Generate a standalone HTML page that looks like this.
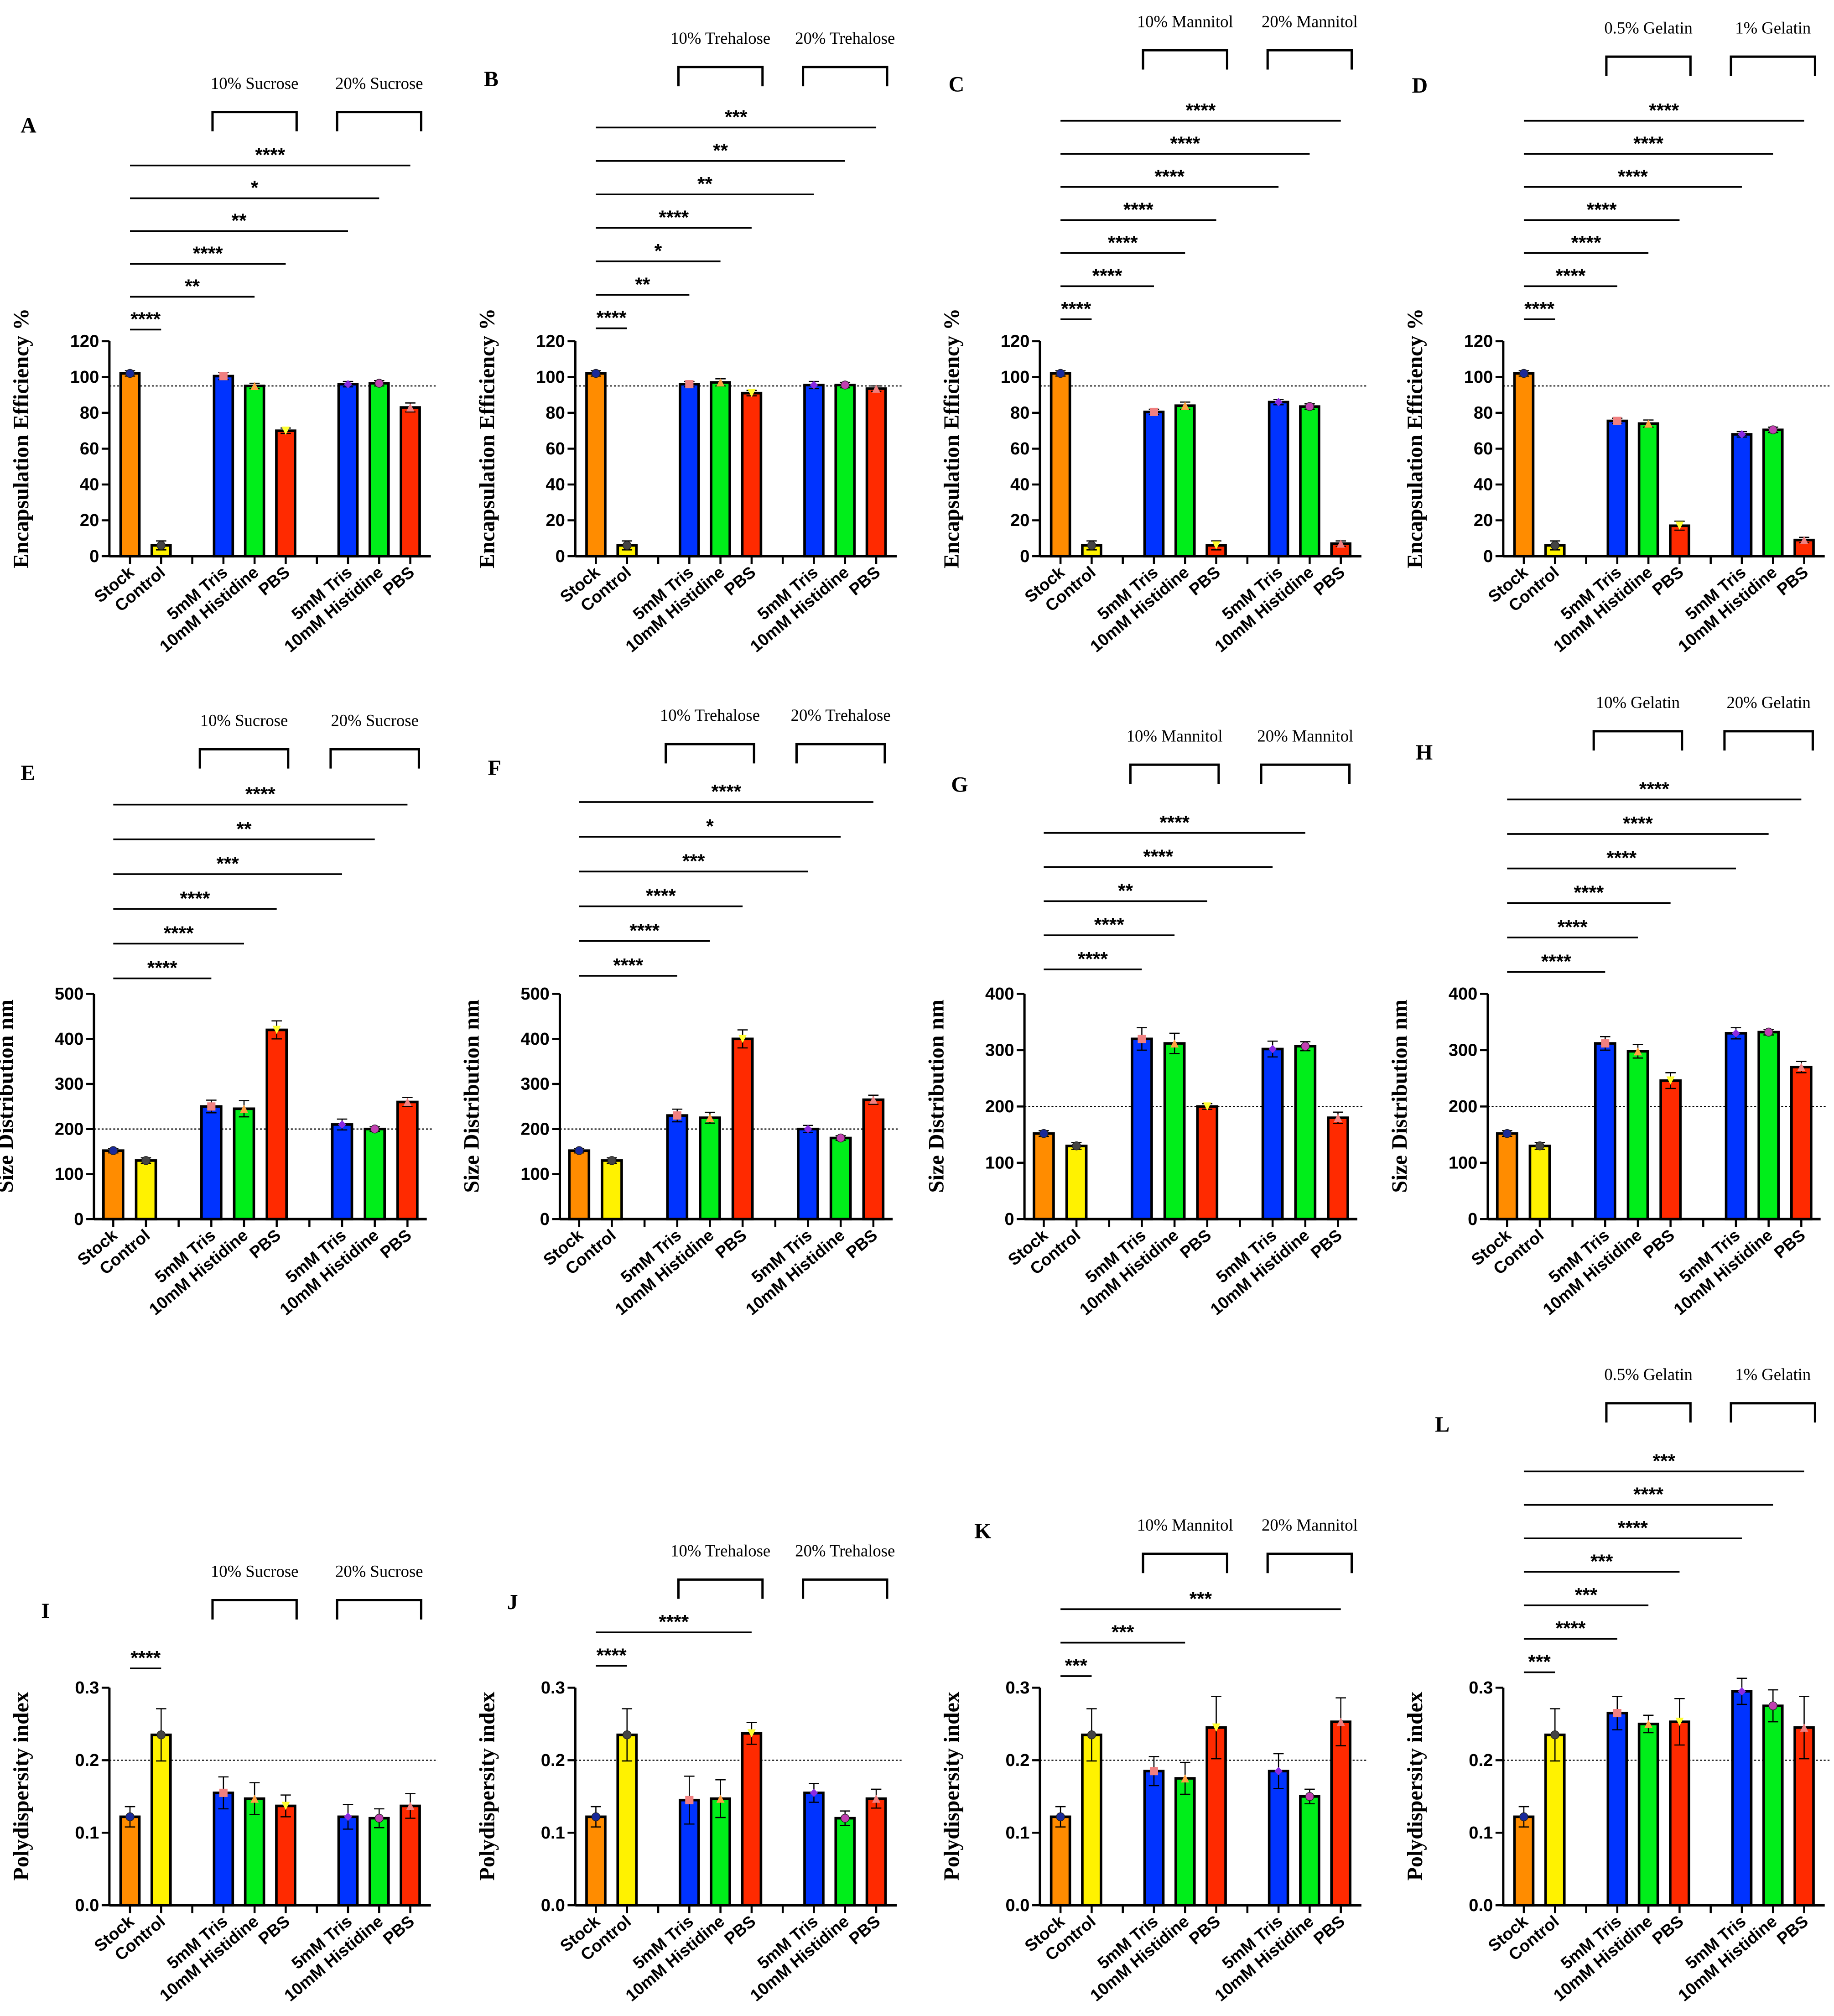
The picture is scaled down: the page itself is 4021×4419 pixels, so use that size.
<!DOCTYPE html>
<html><head><meta charset="utf-8">
<style>html,body{margin:0;padding:0;background:#fff;}svg{display:block;}</style>
</head><body>
<svg id="fig" xmlns="http://www.w3.org/2000/svg" width="4021" height="4419" viewBox="0 0 1425 1566">
<rect width="1425" height="1566" fill="#fff"/>
</svg>
<script>
const categories = ["Stock","Control","5mM Tris","10mM Histidine","PBS","5mM Tris","10mM Histidine","PBS"];
const valuesA = [102,6,100.5,95,70,96,96.5,83];
const valuesB = [102,6,96,97,91,95.5,95.5,93.5];
const valuesC = [102,6,80.5,84,6,86,83.5,7];
const valuesD = [102,6,75.5,74,17,68,70.5,9];
const errA = [1.5,2.5,2,1.5,1.5,1.5,1.5,2.5];
const errB = [1.5,2.5,1.5,2,1.5,2,1.5,1.5];
const errC = [1.5,2.5,1.5,2,2.5,1.5,1.5,1.5];
const errD = [1.5,2.5,1.5,2,2.5,1.5,1.5,1.5];
const valuesE = [152,130,250,245,420,210,200,260];
const valuesF = [152,130,230,225,400,200,180,265];
const valuesG = [152,130,320,312,200,302,307,180];
const valuesH = [152,130,312,298,246,330,332,270];
const errE = [5,6,14,18,20,12,5,10];
const errF = [5,6,14,12,20,8,5,10];
const errG = [5,6,20,18,5,14,8,10];
const errH = [5,6,12,12,14,10,5,10];
const valuesI = [0.122,0.235,0.155,0.147,0.137,0.122,0.12,0.137];
const valuesJ = [0.122,0.235,0.145,0.147,0.237,0.155,0.12,0.147];
const valuesK = [0.122,0.235,0.185,0.175,0.245,0.185,0.15,0.253];
const valuesL = [0.122,0.235,0.265,0.25,0.253,0.295,0.275,0.245];
const errI = [0.014,0.036,0.022,0.022,0.015,0.017,0.013,0.017];
const errJ = [0.014,0.036,0.033,0.026,0.015,0.013,0.01,0.013];
const errK = [0.014,0.036,0.02,0.022,0.043,0.024,0.01,0.033];
const errL = [0.014,0.036,0.023,0.012,0.032,0.018,0.022,0.043];
const sigA = [["Control","****"],["10mM Histidine","**"],["PBS","****"],["5mM Tris 2","**"],["10mM Histidine 2","*"],["PBS 2","****"]];
const sigB = [["Control","****"],["5mM Tris","**"],["10mM Histidine","*"],["PBS","****"],["5mM Tris 2","**"],["10mM Histidine 2","**"],["PBS 2","***"]];
const sigC = [["Control","****"],["5mM Tris","****"],["10mM Histidine","****"],["PBS","****"],["5mM Tris 2","****"],["10mM Histidine 2","****"],["PBS 2","****"]];
const sigD = sigC;
const sigE = [["5mM Tris","****"],["10mM Histidine","****"],["PBS","****"],["5mM Tris 2","***"],["10mM Histidine 2","**"],["PBS 2","****"]];
const sigF = [["5mM Tris","****"],["10mM Histidine","****"],["PBS","****"],["5mM Tris 2","***"],["10mM Histidine 2","*"],["PBS 2","****"]];
const sigG = [["5mM Tris","****"],["10mM Histidine","****"],["PBS","**"],["5mM Tris 2","****"],["10mM Histidine 2","****"]];
const sigH = [["5mM Tris","****"],["10mM Histidine","****"],["PBS","****"],["5mM Tris 2","****"],["10mM Histidine 2","****"],["PBS 2","****"]];
const sigI = [["Control","****"]];
const sigJ = [["Control","****"],["PBS","****"]];
const sigK = [["Control","***"],["10mM Histidine","***"],["PBS 2","***"]];
const sigL = [["Control","***"],["5mM Tris","****"],["10mM Histidine","***"],["PBS","***"],["5mM Tris 2","****"],["10mM Histidine 2","****"],["PBS 2","***"]];
const ticksEE = [0,20,40,60,80,100,120];
const ticks500 = [0,100,200,300,400,500];
const ticks400 = [0,100,200,300,400];
const ticksPDI = [0,0.1,0.2,0.3];
const tickLabelsPDI = ["0.0","0.1","0.2","0.3"];
const groupsSuc = ["10% Sucrose","20% Sucrose"];
const groupsTre = ["10% Trehalose","20% Trehalose"];
const groupsMan = ["10% Mannitol","20% Mannitol"];
const groupsGel1 = ["0.5% Gelatin","1% Gelatin"];
const groupsGel2 = ["10% Gelatin","20% Gelatin"];

const svg = document.getElementById('fig');
const NS = 'http://www.w3.org/2000/svg';
const fills = ["#FF8C00","#FFF200","#0033FF","#00EE1A","#FF2A00","#0033FF","#00EE1A","#FF2A00"];
const mcols = ["#1a2a9a","#444","#f08080","#ffa040","#ffff30","#8a2be2","#c040b0","#f08080"];
const mshape = ["circle","circle","square","tri","itri","diamond","circle","tri"];
const slots = [0,1,3,4,5,7,8,9];
const keys = ["Stock","Control","5mM Tris","10mM Histidine","PBS","5mM Tris 2","10mM Histidine 2","PBS 2"];

function mk(tag, attrs, parent){const e=document.createElementNS(NS,tag);for(const k in attrs)e.setAttribute(k,attrs[k]);(parent||svg).appendChild(e);return e;}

function panel(p){
  const g = mk('g',{});
  
  
  const yS = v => p.yZero - (v/p.max)*(p.yZero-p.yTop);
  const xS = s => p.ax + p.off + s*p.sp;
  const bw = p.sp*0.6;
  const xEnd = xS(9)+p.off;
  const L = mk('text',{x:p.lx,y:p.ly,'font-family':'Liberation Serif, serif','font-weight':'bold','font-size':17},g);
  L.textContent = p.id;
  
  
  const cy=(p.yTop+p.yZero)/2 - 8;
  const tx0 = p.ax-63;
  const yt = mk('text',{x:tx0,y:cy,transform:`rotate(-90 ${tx0} ${cy})`,'text-anchor':'middle','font-family':'Liberation Serif, serif','font-weight':'bold','font-size':17},g);
  yt.textContent = p.ytitle;
  
  
  const ya = mk('line',{x1:p.ax,y1:p.yTop,x2:p.ax,y2:p.yZero,stroke:'#000','stroke-width':1.8},g);
  
  
  p.ticks.forEach((t,i)=>{
    mk('line',{x1:p.ax-6,y1:yS(t),x2:p.ax,y2:yS(t),stroke:'#000','stroke-width':1.6},g);
    const tl = mk('text',{x:p.ax-8,y:yS(t)+4.5,'text-anchor':'end','font-family':'Liberation Sans, sans-serif','font-weight':'bold','font-size':13.5},g);
    tl.textContent = p.tickLabels ? p.tickLabels[i] : String(t);
    
    
  });
  const rl = mk('line',{x1:p.ax,y1:yS(p.ref),x2:xEnd+5,y2:yS(p.ref),stroke:'#000','stroke-width':0.9,'stroke-dasharray':'1.5,1.5'},g);
  
  
  p.values.forEach((v,i)=>{
    const cx = xS(slots[i]);
    const r = mk('rect',{x:cx-bw/2,y:yS(v),width:bw,height:p.yZero-yS(v),fill:fills[i],stroke:'#000','stroke-width':2},g);
    
    
    const e = p.err[i];
    const eg = mk('path',{d:`M${cx},${yS(v+e)}V${yS(v-e)}M${cx-4},${yS(v+e)}H${cx+4}M${cx-4},${yS(v-e)}H${cx+4}`,stroke:'#000','stroke-width':0.9,fill:'none'},g);
    
    
    const my = yS(v), s=3.2, sh=mshape[i]; let m;
    if(sh==='circle') m=mk('circle',{cx:cx,cy:my,r:s,fill:mcols[i],stroke:'#222','stroke-width':0.5},g);
    else if(sh==='square') m=mk('rect',{x:cx-s,y:my-s,width:2*s,height:2*s,fill:mcols[i]},g);
    else if(sh==='tri') m=mk('path',{d:`M${cx},${my-s}L${cx+s},${my+s}L${cx-s},${my+s}Z`,fill:mcols[i]},g);
    else if(sh==='itri') m=mk('path',{d:`M${cx-s},${my-s}L${cx+s},${my-s}L${cx},${my+s}Z`,fill:mcols[i]},g);
    else m=mk('path',{d:`M${cx},${my-s}L${cx+s},${my}L${cx},${my+s}L${cx-s},${my}Z`,fill:mcols[i]},g);
    
    
  });
  const xa = mk('line',{x1:p.ax,y1:p.yZero,x2:xEnd,y2:p.yZero,stroke:'#000','stroke-width':2},g);
  
  
  for(let s=0;s<10;s++) mk('line',{x1:xS(s),y1:p.yZero,x2:xS(s),y2:p.yZero+6,stroke:'#000','stroke-width':1.6},g);
  categories.forEach((c,i)=>{
    const tx=xS(slots[i])+4, ty=p.yZero+14;
    const t = mk('text',{x:tx,y:ty,transform:`rotate(-40 ${tx} ${ty})`,'text-anchor':'end','font-family':'Liberation Sans, sans-serif','font-weight':'bold','font-size':13},g);
    t.textContent = c;
    
    
  });
  const x0 = xS(0);
  p.sig.forEach((sg,k)=>{
    const idx = keys.indexOf(sg[0]);
    const x1 = xS(slots[idx]);
    const ly = p.sigY0 - k*p.sigStep;
    const l = mk('line',{x1:x0,y1:ly,x2:x1,y2:ly,stroke:'#000','stroke-width':1.3},g);
    
    
    const st = mk('text',{x:(x0+x1)/2,y:ly-3,'text-anchor':'middle','font-family':'Liberation Sans, sans-serif','font-weight':'bold','font-size':15},g);
    st.textContent = sg[1];
    
    
  });
  [[2,4],[5,7]].forEach((pr,k)=>{
    const a = xS(slots[pr[0]])-p.sp*0.35, b = xS(slots[pr[1]])+p.sp*0.35;
    const br = mk('path',{d:`M${a},${p.brY+15}V${p.brY}H${b}V${p.brY+15}`,stroke:'#000','stroke-width':1.8,fill:'none'},g);
    
    
    const gt = mk('text',{x:(a+b)/2,y:p.brY-18,'text-anchor':'middle','font-family':'Liberation Serif, serif','font-size':13},g);
    gt.textContent = p.groups[k];
    
    
  });
}

const EE='Encapsulation Efficiency %', SD='Size Distribution nm', PD='Polydispersity index';
const r1={yTop:265,yZero:432,max:120,ticks:ticksEE,ref:95,ytitle:EE,off:16,sp:24.2};
panel(Object.assign({},r1,{id:'A',lx:16,ly:103,ax:85,values:valuesA,err:errA,sig:sigA,sigY0:256,sigStep:25.5,brY:87,groups:groupsSuc}));
panel(Object.assign({},r1,{id:'B',lx:376,ly:67,ax:447,values:valuesB,err:errB,sig:sigB,sigY0:255,sigStep:26,brY:52,groups:groupsTre}));
panel(Object.assign({},r1,{id:'C',lx:737,ly:71,ax:808,values:valuesC,err:errC,sig:sigC,sigY0:248,sigStep:25.7,brY:39,groups:groupsMan}));
panel(Object.assign({},r1,{id:'D',lx:1097,ly:72,ax:1168,values:valuesD,err:errD,sig:sigD,sigY0:248,sigStep:25.7,brY:44,groups:groupsGel1}));
const r2={yTop:772,yZero:947,ytitle:SD,off:15,sp:25.4,ref:200};
panel(Object.assign({},r2,{id:'E',lx:16,ly:606,ax:73,max:500,ticks:ticks500,values:valuesE,err:errE,sig:sigE,sigY0:760,sigStep:27,brY:582,groups:groupsSuc}));
panel(Object.assign({},r2,{id:'F',lx:379,ly:602,ax:435,max:500,ticks:ticks500,values:valuesF,err:errF,sig:sigF,sigY0:758,sigStep:27,brY:578,groups:groupsTre}));
panel(Object.assign({},r2,{id:'G',lx:739,ly:615,ax:796,max:400,ticks:ticks400,values:valuesG,err:errG,sig:sigG,sigY0:753,sigStep:26.5,brY:594,groups:groupsMan}));
panel(Object.assign({},r2,{id:'H',lx:1100,ly:590,ax:1156,max:400,ticks:ticks400,values:valuesH,err:errH,sig:sigH,sigY0:755,sigStep:26.8,brY:568,groups:groupsGel2}));
const r3={yTop:1311,yZero:1480,max:0.3,ticks:ticksPDI,tickLabels:tickLabelsPDI,ref:0.2,ytitle:PD,off:16,sp:24.2};
panel(Object.assign({},r3,{id:'I',lx:32,ly:1257,ax:85,values:valuesI,err:errI,sig:sigI,sigY0:1296,sigStep:26,brY:1243,groups:groupsSuc}));
panel(Object.assign({},r3,{id:'J',lx:394,ly:1250,ax:447,values:valuesJ,err:errJ,sig:sigJ,sigY0:1294,sigStep:26,brY:1227,groups:groupsTre}));
panel(Object.assign({},r3,{id:'K',lx:757,ly:1195,ax:808,values:valuesK,err:errK,sig:sigK,sigY0:1302,sigStep:26,brY:1207,groups:groupsMan}));
panel(Object.assign({},r3,{id:'L',lx:1115,ly:1112,ax:1168,values:valuesL,err:errL,sig:sigL,sigY0:1299,sigStep:26,brY:1090,groups:groupsGel1}));
</script>
</body></html>
